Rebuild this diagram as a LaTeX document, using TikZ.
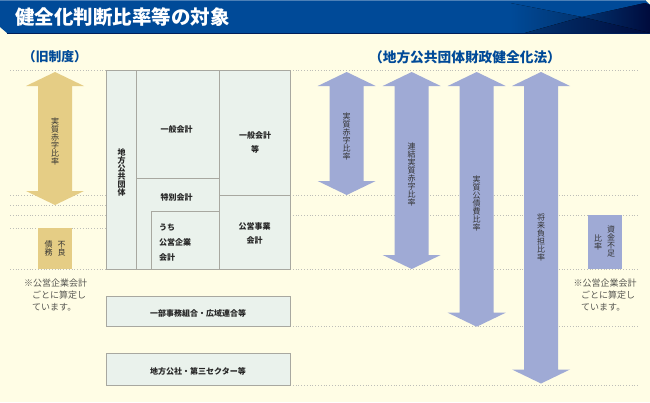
\documentclass[tikz,border=0pt]{standalone}
\usepackage{fontspec}
\setmainfont{Noto Sans CJK JP}
\usetikzlibrary{calc}
\definecolor{paper}{HTML}{FFFDE5}
\definecolor{headblue}{HTML}{004A98}
\definecolor{headmid}{HTML}{02336F}
\definecolor{headdark}{HTML}{000B3C}
\definecolor{cellfill}{HTML}{EAF2EC}
\definecolor{cellline}{HTML}{A8A8A0}
\definecolor{oldbar}{HTML}{E5CD85}
\definecolor{newbar}{HTML}{9FAAD5}
\definecolor{notegrey}{HTML}{555550}
\newcommand{\fsize}[1]{\fontsize{#1}{#1}\selectfont}
\begin{document}
\begin{tikzpicture}[x=1pt,y=-1pt]
\tikzstyle{guide}=[cellline!75, dotted, line width=0.8pt]
\tikzstyle{cell}=[draw=cellline, fill=cellfill, line width=1pt]
\tikzstyle{label}=[font=\fsize{8}\bfseries, text=black!85, align=center, inner sep=0pt]
\tikzstyle{tate}=[font=\fsize{8}, text=black!80, align=center, inner sep=0pt]
\tikzstyle{note}=[font=\fsize{9}, text=notegrey, anchor=west, inner sep=0pt]
\tikzstyle{heading}=[font=\fsize{13.7}\bfseries, text=headblue, inner sep=0pt]

\useasboundingbox (0,0) rectangle (650,402);
\fill[paper] (0,0) rectangle (650,402);

% title band
\fill[headblue] (0,0) -- (645,0) -- (650,5) -- (650,33) -- (7,33) -- (0,27) -- cycle;
\fill[left color=headblue, right color=headmid] (510,3) -- (582,17) -- (525,33) -- (510,33) -- cycle;
\fill[left color=headmid, right color=headdark] (582,17) -- (645,3) -- (650,5) -- (650,33) -- cycle;
\fill[left color=headmid, right color=headdark] (525,33) -- (582,17) -- (650,33) -- cycle;
\draw[headblue!70!white, line width=0.8pt] (0,0.4) -- (645,0.4);
\draw[headdark!70!headblue, line width=0.7pt] (7,33) -- (650,33);
\node[font=\fsize{19.5}\bfseries, text=white, anchor=west, inner sep=0pt] (title) at (15,17) {健全化判断比率等の対象};

% headings
\node[heading, font=\fsize{12.8}\bfseries] (oldhead) at (55,57) {（旧制度）};
\node[heading] (newhead) at (465,57) {（地方公共団体財政健全化法）};

% guide lines
\foreach \yy in {70.7,195.5,215,269} \draw[guide] (10,\yy) -- (639,\yy);
\foreach \yy in {205.5,228} \draw[guide] (10,\yy) -- (106,\yy);
\foreach \yy in {326.7,385} \draw[guide] (290,\yy) -- (639,\yy);

% old arrow and box
\foreach \xo/\yb/\col in {55/205/oldbar, 346.7/195/newbar, 411.7/269/newbar, 476.7/326.7/newbar, 541/383.5/newbar}
  \fill[\col] (\xo,72) -- (\xo+29,86) -- (\xo+17,86) -- (\xo+17,\yb-14) -- (\xo+29,\yb-14) -- (\xo,\yb)
    -- (\xo-29,\yb-14) -- (\xo-17,\yb-14) -- (\xo-17,86) -- (\xo-29,86) -- cycle;
\fill[oldbar] (38,228) rectangle (72,268.5);
\fill[newbar] (587.7,215) rectangle (621.7,268.5);

% grid
\draw[cell] (106,70.7) rectangle (290,269.3);
\draw[cell] (106,296) rectangle (290,326.7);
\draw[cell] (106,353.3) rectangle (290,385);
\draw[cellline, line width=1pt] (136.7,70.7) -- (136.7,269.3);
\draw[cellline, line width=1pt] (219.3,70.7) -- (219.3,269.3);
\draw[cellline, line width=1pt] (136.7,178.3) -- (219.3,178.3);
\draw[cellline, line width=1pt] (219.3,195.5) -- (290,195.5);
\draw[cellline, line width=1pt] (151.7,269.3) -- (151.7,211.7) -- (219.3,211.7);

% grid labels
\node[label] (ippan) at (176.5,129.5) {一般会計};
\node[label] (ippanto) at (255,135) {一般会計};
\node[label] (to) at (255,149.5) {等};
\node[label] (tokubetsu) at (176.5,197) {特別会計};
\node[label, anchor=west] (uchi) at (159,227.7) {うち};
\node[label, anchor=west] (kouei) at (159,242) {公営企業};
\node[label, anchor=west] (kaikei) at (159,257) {会計};
\node[label] (jigyou) at (254.5,226) {公営事業};
\node[label] (jigyoukai) at (254.5,240.5) {会計};
\node[label] (kumiai) at (198,313.5) {一部事務組合・広域連合等};
\node[label] (kousha) at (198,371) {地方公社・第三セクター等};
\node[label] (dantai) at (121.7,172) {地\\方\\公\\共\\団\\体};

% ratios
\node[tate] (oldjisshitsu) at (55,141.5) {実\\質\\赤\\字\\比\\率};
\node[tate] (furyou) at (61.7,248.5) {不\\良};
\node[tate] (saimu) at (48.7,248.5) {債\\務};
\node[tate] (jisshitsu) at (346.7,136) {実\\質\\赤\\字\\比\\率};
\node[tate] (renketsu) at (411.7,174) {連\\結\\実\\質\\赤\\字\\比\\率};
\node[tate] (kousai) at (476.7,203.5) {実\\質\\公\\債\\費\\比\\率};
\node[tate] (shourai) at (541,237) {将\\来\\負\\担\\比\\率};
\node[tate] (shikin) at (611,241.5) {資\\金\\不\\足};
\node[tate] (shikinhi) at (598,242) {比\\率};

% notes
\node[note] (oldnotea) at (24,282.7) {※公営企業会計};
\node[note] (oldnoteb) at (32,295) {ごとに算定し};
\node[note] (oldnotec) at (32,307) {ています。};
\node[note] (newnotea) at (573.3,282.7) {※公営企業会計};
\node[note] (newnoteb) at (581,295) {ごとに算定し};
\node[note] (newnotec) at (581,307) {ています。};
\end{tikzpicture}
\end{document}
